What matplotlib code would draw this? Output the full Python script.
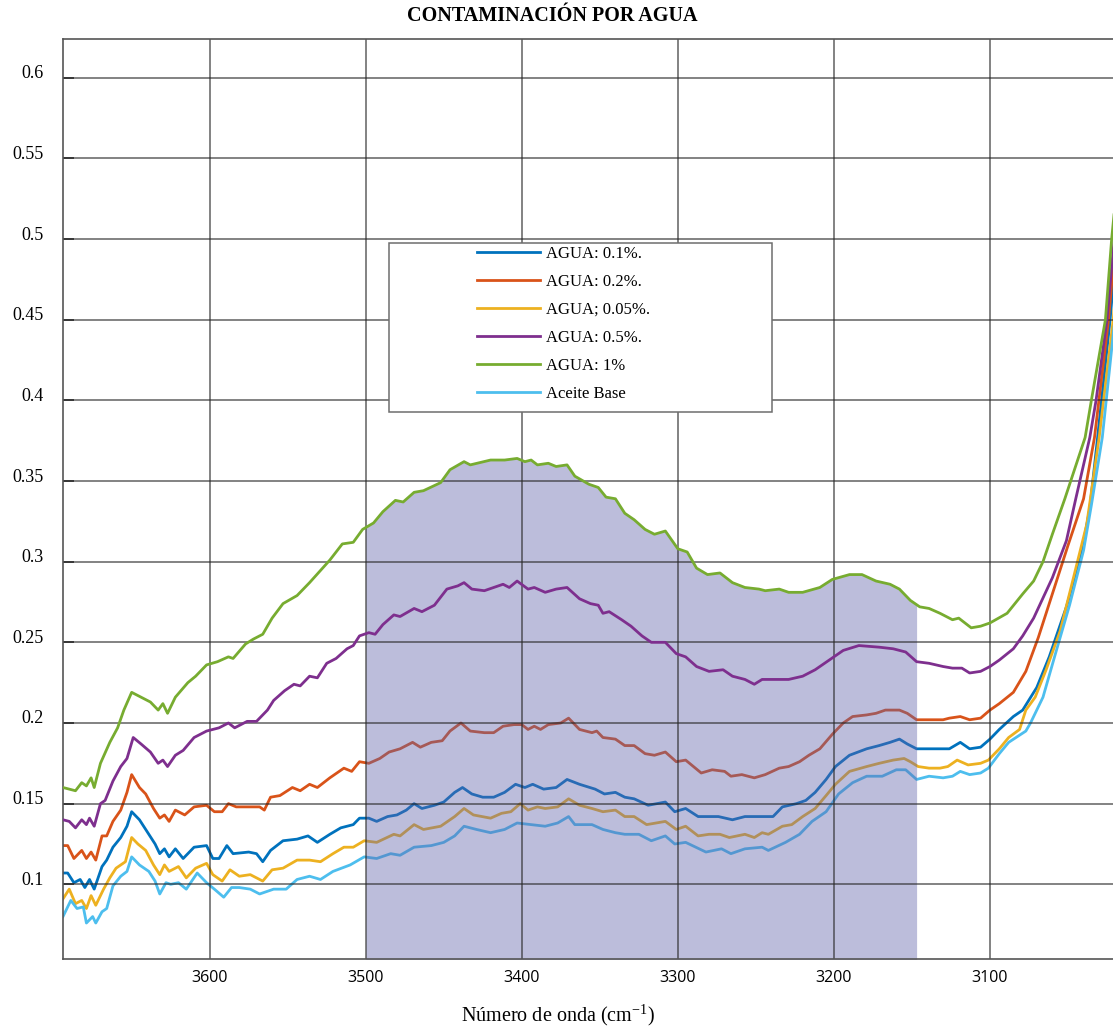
import numpy as np
import matplotlib
matplotlib.use("Agg")
import matplotlib.pyplot as plt
import matplotlib.transforms as mtransforms
from matplotlib.patches import Rectangle

plt.rcParams["font.family"] = ["Liberation Serif", "DejaVu Serif"]

# (wavenumber, absorbance)
agua_01 = [(3694, .107), (3691, .107), (3687, .101), (3683, .103), (3680, .098), (3677, .103), (3674, .097),
           (3669, .111), (3666, .115), (3662, .123), (3657, .129), (3653, .136), (3650, .145), (3645, .140),
           (3639, .131), (3635, .125), (3632, .119), (3629, .122), (3626, .117), (3622, .122), (3617, .116),
           (3610, .123), (3602, .124), (3598, .116), (3594, .116), (3589, .124), (3585, .119), (3575, .120),
           (3570, .119), (3566, .114), (3561, .121), (3553, .127), (3544, .128), (3537, .130), (3531, .126),
           (3523, .131), (3516, .135), (3508, .137), (3504, .141), (3498, .141), (3493, .139), (3486, .142),
           (3480, .143), (3474, .146), (3469, .150), (3464, .147), (3456, .149), (3450, .151), (3443, .157),
           (3438, .160), (3432, .156), (3425, .154), (3418, .154), (3411, .157), (3404, .162), (3398, .160),
           (3393, .162), (3386, .159), (3378, .160), (3371, .165), (3363, .162), (3353, .159), (3347, .156),
           (3340, .157), (3334, .154), (3328, .153), (3319, .149), (3308, .151), (3302, .145), (3295, .147),
           (3287, .142), (3274, .142), (3265, .140), (3257, .142), (3246, .142), (3239, .142), (3233, .148),
           (3224, .150), (3218, .152), (3212, .157), (3205, .165), (3199, .173), (3190, .180), (3179, .184),
           (3171, .186), (3164, .188), (3158, .190), (3153, .187), (3147, .184), (3139, .184), (3132, .184),
           (3126, .184), (3119, .188), (3113, .184), (3106, .185), (3100, .190), (3094, .196), (3085, .204),
           (3079, .208), (3070, .222), (3062, .241), (3051, .272), (3042, .302), (3036, .333), (3031, .377),
           (3023, .450), (3019, .495)]

agua_02 = [(3694, .124), (3691, .124), (3687, .116), (3682, .121), (3679, .116), (3676, .120), (3673, .115),
           (3669, .130), (3666, .130), (3662, .139), (3657, .146), (3653, .157), (3650, .168), (3645, .160),
           (3641, .156), (3636, .147), (3632, .141), (3629, .143), (3626, .139), (3622, .146), (3616, .143),
           (3610, .148), (3602, .149), (3597, .145), (3592, .145), (3588, .150), (3583, .148), (3574, .148),
           (3568, .148), (3565, .146), (3561, .154), (3555, .155), (3547, .160), (3542, .158), (3536, .162),
           (3531, .160), (3523, .166), (3514, .172), (3509, .170), (3504, .176), (3498, .175), (3491, .178),
           (3485, .182), (3478, .184), (3470, .188), (3465, .185), (3458, .188), (3451, .189), (3446, .195),
           (3439, .200), (3433, .195), (3424, .194), (3418, .194), (3412, .198), (3405, .199), (3400, .199),
           (3396, .196), (3392, .198), (3388, .196), (3383, .199), (3375, .200), (3370, .203), (3363, .196),
           (3355, .194), (3352, .195), (3348, .191), (3340, .190), (3334, .186), (3328, .186), (3321, .181),
           (3315, .180), (3308, .182), (3301, .176), (3295, .177), (3285, .169), (3278, .171), (3270, .170),
           (3266, .167), (3259, .168), (3251, .166), (3244, .168), (3235, .172), (3229, .173), (3222, .176),
           (3216, .180), (3209, .184), (3201, .193), (3194, .200), (3188, .204), (3179, .205), (3173, .206),
           (3167, .208), (3158, .208), (3153, .206), (3147, .202), (3139, .202), (3130, .202), (3126, .203),
           (3119, .204), (3113, .202), (3106, .203), (3100, .208), (3094, .212), (3085, .219), (3077, .232),
           (3069, .253), (3060, .280), (3050, .310), (3040, .339), (3033, .377), (3024, .450), (3019, .505)]

agua_005 = [(3694, .091), (3690, .097), (3686, .088), (3682, .090), (3679, .085), (3676, .093), (3673, .087),
            (3668, .097), (3664, .104), (3660, .110), (3654, .114), (3650, .129), (3646, .125), (3641, .121),
            (3636, .112), (3632, .106), (3629, .112), (3626, .108), (3620, .111), (3615, .104), (3609, .110),
            (3602, .113), (3598, .106), (3592, .102), (3587, .109), (3581, .105), (3574, .106), (3566, .102),
            (3560, .109), (3553, .110), (3544, .115), (3536, .115), (3529, .114), (3521, .119), (3514, .123),
            (3508, .123), (3501, .127), (3493, .126), (3482, .131), (3478, .130), (3469, .137), (3463, .134),
            (3452, .136), (3443, .142), (3437, .147), (3431, .143), (3420, .141), (3413, .144), (3407, .145),
            (3401, .150), (3396, .146), (3390, .148), (3385, .147), (3377, .148), (3370, .153), (3363, .149),
            (3355, .147), (3348, .145), (3340, .146), (3334, .142), (3328, .142), (3320, .137), (3308, .139),
            (3301, .134), (3295, .136), (3287, .130), (3280, .131), (3273, .131), (3267, .129), (3257, .131),
            (3251, .129), (3246, .132), (3242, .131), (3233, .136), (3227, .137), (3220, .142), (3212, .147),
            (3205, .155), (3199, .162), (3190, .170), (3179, .173), (3171, .175), (3162, .177), (3155, .178),
            (3151, .176), (3146, .173), (3139, .172), (3132, .172), (3127, .173), (3121, .177), (3114, .174),
            (3106, .175), (3101, .177), (3094, .184), (3088, .191), (3081, .196), (3077, .208), (3071, .216),
            (3064, .233), (3055, .257), (3047, .288), (3038, .323), (3030, .377), (3021, .450), (3019, .475)]

agua_05 = [(3694, .140), (3690, .139), (3686, .135), (3682, .140), (3679, .137), (3677, .141), (3674, .136),
           (3670, .150), (3667, .152), (3662, .164), (3657, .173), (3653, .178), (3649, .191), (3644, .187),
           (3638, .182), (3633, .175), (3630, .177), (3627, .173), (3622, .180), (3617, .183), (3610, .191),
           (3602, .195), (3594, .197), (3588, .200), (3584, .197), (3576, .201), (3570, .201), (3563, .208),
           (3559, .214), (3552, .220), (3546, .224), (3542, .223), (3536, .229), (3531, .228), (3525, .237),
           (3519, .240), (3512, .246), (3508, .248), (3504, .254), (3498, .256), (3494, .255), (3489, .261),
           (3482, .267), (3478, .266), (3469, .271), (3464, .269), (3456, .273), (3448, .283), (3441, .285),
           (3437, .287), (3432, .283), (3424, .282), (3418, .284), (3412, .286), (3408, .284), (3403, .288),
           (3396, .283), (3392, .284), (3385, .281), (3378, .283), (3371, .284), (3363, .277), (3356, .274),
           (3351, .273), (3348, .268), (3344, .269), (3336, .264), (3330, .260), (3323, .254), (3317, .250),
           (3308, .250), (3301, .243), (3295, .241), (3288, .235), (3280, .232), (3271, .233), (3265, .229),
           (3257, .227), (3251, .224), (3246, .227), (3237, .227), (3229, .227), (3220, .229), (3212, .233),
           (3203, .239), (3194, .245), (3184, .248), (3171, .247), (3162, .246), (3154, .244), (3147, .238),
           (3139, .237), (3130, .235), (3124, .234), (3118, .234), (3113, .231), (3106, .232), (3100, .235),
           (3094, .239), (3085, .246), (3079, .254), (3072, .265), (3060, .290), (3051, .313), (3045, .339),
           (3036, .377), (3032, .400), (3025, .450), (3019, .515)]

agua_1 = [(3694, .160), (3686, .158), (3682, .163), (3679, .161), (3676, .166), (3674, .160), (3670, .175),
          (3664, .188), (3659, .197), (3655, .208), (3650, .219), (3644, .216), (3638, .213), (3633, .208),
          (3630, .212), (3627, .206), (3622, .216), (3614, .225), (3609, .229), (3602, .236), (3595, .238),
          (3588, .241), (3585, .240), (3577, .249), (3572, .252), (3566, .255), (3560, .265), (3553, .274),
          (3544, .279), (3536, .287), (3523, .301), (3515, .311), (3508, .312), (3502, .320), (3495, .324),
          (3489, .331), (3481, .338), (3476, .337), (3469, .343), (3463, .344), (3452, .349), (3446, .357),
          (3437, .362), (3433, .360), (3420, .363), (3411, .363), (3403, .364), (3398, .362), (3394, .363),
          (3390, .360), (3383, .361), (3378, .359), (3371, .360), (3366, .353), (3357, .348), (3351, .346),
          (3346, .340), (3340, .339), (3334, .330), (3328, .326), (3321, .320), (3315, .317), (3308, .319),
          (3300, .308), (3294, .306), (3288, .296), (3281, .292), (3273, .293), (3265, .287), (3257, .284),
          (3248, .283), (3244, .282), (3235, .283), (3229, .281), (3220, .281), (3209, .284), (3201, .289),
          (3190, .292), (3182, .292), (3173, .288), (3164, .286), (3158, .283), (3151, .276), (3145, .272),
          (3139, .271), (3132, .268), (3124, .264), (3120, .265), (3112, .259), (3106, .260), (3100, .262),
          (3089, .268), (3079, .280), (3072, .288), (3066, .300), (3060, .317), (3052, .339), (3039, .377),
          (3035, .400), (3026, .450), (3022, .500), (3019, .530)]

aceite_base = [(3694, .080), (3689, .090), (3685, .085), (3681, .086), (3679, .076), (3675, .080), (3673, .076),
               (3669, .083), (3666, .085), (3662, .099), (3657, .105), (3653, .108), (3650, .117), (3645, .112),
               (3639, .108), (3635, .102), (3632, .094), (3628, .101), (3625, .100), (3620, .101), (3615, .097),
               (3608, .107), (3602, .101), (3597, .097), (3591, .092), (3586, .098), (3581, .098), (3574, .097),
               (3568, .094), (3559, .097), (3551, .097), (3544, .103), (3536, .105), (3529, .103), (3521, .108),
               (3510, .112), (3501, .117), (3493, .116), (3484, .119), (3478, .118), (3469, .123), (3458, .124),
               (3450, .126), (3443, .130), (3437, .136), (3429, .134), (3420, .132), (3411, .134), (3403, .138),
               (3394, .137), (3385, .136), (3377, .138), (3370, .142), (3366, .137), (3355, .137), (3348, .134),
               (3340, .132), (3334, .131), (3325, .131), (3317, .127), (3308, .130), (3302, .125), (3295, .126),
               (3282, .120), (3272, .122), (3266, .119), (3257, .122), (3246, .123), (3242, .121), (3231, .126),
               (3222, .131), (3214, .139), (3205, .145), (3197, .156), (3188, .163), (3179, .167), (3169, .167),
               (3160, .171), (3154, .171), (3147, .165), (3139, .167), (3130, .166), (3124, .167), (3119, .170),
               (3113, .168), (3106, .169), (3101, .172), (3094, .181), (3088, .188), (3077, .195), (3074, .200),
               (3066, .216), (3058, .243), (3049, .273), (3040, .307), (3035, .335), (3028, .377), (3020, .450),
               (3019, .460)]

labels = ["AGUA: 0.1%.", "AGUA: 0.2%.", "AGUA; 0.05%.", "AGUA: 0.5%.", "AGUA: 1%", "Aceite Base"]
colors = ["#0072BD", "#D95319", "#EDB120", "#7E2F8E", "#77AC30", "#4DBEEE"]
series = [agua_01, agua_02, agua_005, agua_05, agua_1, aceite_base]

band = (3147, 3500)          # shaded O-H region
xticks = [3600, 3500, 3400, 3300, 3200, 3100]
yticks = [0.1, 0.15, 0.2, 0.25, 0.3, 0.35, 0.4, 0.45, 0.5, 0.55, 0.6]

W, H = 1113, 1029
fig = plt.figure(figsize=(W / 100, H / 100), dpi=100)
ax = fig.add_axes([63 / W, (H - 959) / H, (W - 63) / W + 0.003, (959 - 39) / H])

handles = []
for data, lab, col in zip(series, labels, colors):
    x, y = np.array(data).T
    z = 3 if lab in ("AGUA: 0.5%.", "AGUA: 1%") else 1.5
    h, = ax.plot(x, y, color=col, lw=2.0, label=lab, zorder=z)
    handles.append(h)

# shaded area under the 1 % curve
gx, gy = np.array(agua_1).T
order = np.argsort(gx)
gx, gy = gx[order], gy[order]
fx = np.concatenate([[band[0]], gx[(gx > band[0]) & (gx < band[1])], [band[1]]])
fy = np.interp(fx, gx, gy)
ax.fill_between(fx, 0, fy, color=(0.375, 0.39, 0.67), alpha=0.42, lw=0, zorder=1.8)

ax.set_xlim(3694, 3019)
ax.set_ylim(0.0537, 0.624)

grid_kw = dict(color="#262626", alpha=0.62, lw=1.3, zorder=2)
for t in xticks:
    ax.axvline(t, **grid_kw)
for t in yticks:
    ax.axhline(t, **grid_kw)

ax.set_xticks(xticks)
ax.set_xticklabels([str(t) for t in xticks], family=["Open Sans", "DejaVu Sans"], fontsize=11.5)
ax.set_yticks(yticks)
ax.set_yticklabels([f"{t:g}" for t in yticks], fontsize=13)
ax.tick_params(axis="y", direction="in", length=8, width=1.3, color="#404040", pad=14)
ax.tick_params(axis="x", direction="in", length=0, pad=8)
shift = mtransforms.ScaledTranslation(0, 0.06, fig.dpi_scale_trans)
for lab in ax.get_yticklabels():
    lab.set_transform(lab.get_transform() + shift)

for side in ("left", "bottom", "top"):
    ax.spines[side].set_color("#555555")
    ax.spines[side].set_linewidth(1.2)
ax.spines["right"].set_visible(False)

fig.text(558 / W, 1 - 1015 / H, "Número de onda (cm$^{\\mathregular{-1}}$)", ha="center", va="center",
         fontsize=14.5)
fig.text(552 / W, 1 - 16 / H, "CONTAMINACIÓN POR AGUA", ha="center", va="center",
         fontsize=14.5, fontweight="bold")

# legend box and entries
box = Rectangle((389 / W, 1 - 412 / H), 383 / W, 169 / H, transform=fig.transFigure,
                facecolor="white", edgecolor="#6e6e6e", lw=1.1, zorder=9, clip_on=False)
ax.add_patch(box)
leg = ax.legend(handles=handles, loc="upper left", bbox_to_anchor=(477 / W, 1 - 246 / H),
                bbox_transform=fig.transFigure, frameon=False, fontsize=12,
                handlelength=3.8, handletextpad=0.35, labelspacing=0.72,
                borderpad=0, borderaxespad=0)
leg.set_zorder(10)

fig.savefig("out.png", dpi=100)
